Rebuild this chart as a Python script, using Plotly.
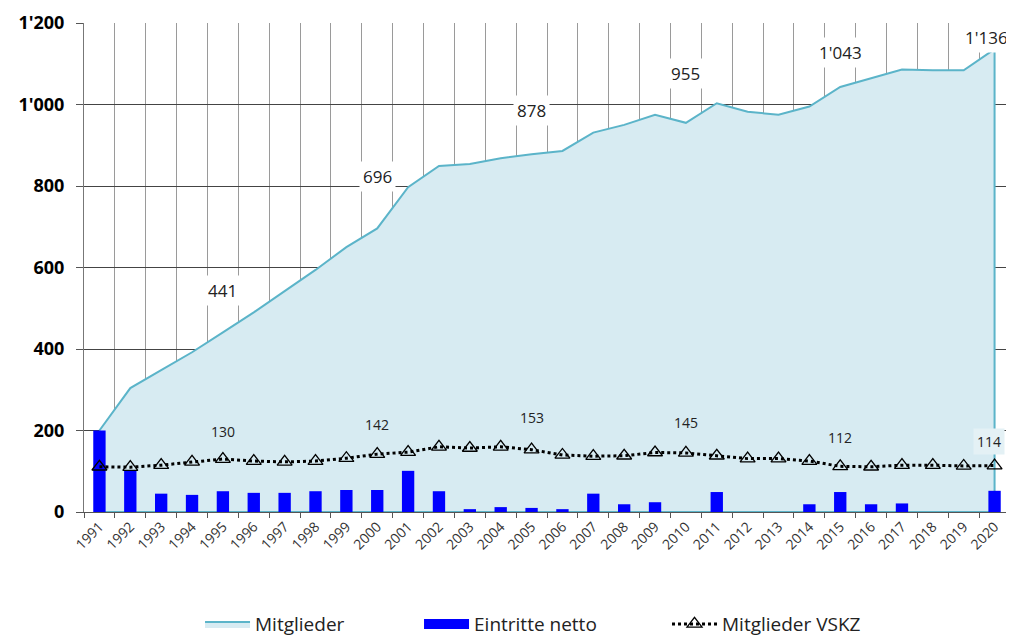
import plotly.graph_objects as go

years = [str(y) for y in range(1991, 2021)]

mitglieder = [200, 304, 348, 392, 441, 490, 542, 594, 650, 696,
              797, 849, 854, 868, 878, 886, 931, 950, 975, 955,
              1003, 982, 975, 995, 1043, 1064, 1086, 1084, 1084, 1136]

eintritte = [200, 101, 45, 42, 51, 47, 47, 51, 54, 54,
             101, 51, 7, 12, 10, 7, 45, 19, 24, 0,
             49, 0, 0, 19, 49, 19, 21, 0, 0, 52]

vskz = [111, 110, 115, 123, 130, 125, 123, 125, 132, 142,
        147, 160, 157, 160, 153, 140, 137, 138, 146, 145,
        138, 131, 131, 125, 112, 111, 115, 115, 113, 114]

y_tickvals = [0, 200, 400, 600, 800, 1000, 1200]
y_ticktext = ["0", "200", "400", "600", "800", "1'000", "1'200"]

label_years_m = ["1995", "2000", "2005", "2010", "2015", "2020"]
label_years_v = ["1995", "2000", "2005", "2010", "2015", "2020"]


def fmt(v):
    return f"{v:,}".replace(",", "'")


FILL = "#d7ebf2"
LINE = "#5bb4c9"
BLUE = "#0000ff"

fig = go.Figure()

# Area (bottom layer, main axes)
fig.add_trace(go.Scatter(
    x=years + [years[-1], years[0]],
    y=mitglieder + [0, 0],
    fill="toself", fillcolor=FILL,
    mode="lines", line=dict(color=LINE, width=2),
    name="Mitglieder", hoverinfo="skip",
    xaxis="x", yaxis="y", legend="legend",
))

# Bars (overlay axes, drawn above the area)
fig.add_trace(go.Bar(
    x=years, y=eintritte, name="Eintritte netto",
    marker=dict(color=BLUE, line=dict(width=0)),
    showlegend=False, xaxis="x2", yaxis="y2",
))
# legend proxy for the bars (wide rectangle symbol)
fig.add_trace(go.Scatter(
    x=[None], y=[None], mode="lines", name="Eintritte netto",
    line=dict(color=BLUE, width=12), xaxis="x2", yaxis="y2",
    legend="legend2",
))

fig.add_trace(go.Scatter(
    x=years, y=vskz, name="Mitglieder VSKZ",
    mode="lines+markers",
    line=dict(color="black", width=3, dash="dot"),
    marker=dict(symbol="triangle-up-open", size=13, color="black",
                line=dict(color="black", width=1.3)),
    xaxis="x2", yaxis="y2", legend="legend3",
))

m_shift = {"1995": (0, 42), "2000": (0, 52), "2005": (0, 44),
           "2010": (0, 49), "2015": (0, 34), "2020": (-8, 12)}
annotations = []
for yr in label_years_m:
    i = years.index(yr)
    xs, ys = m_shift[yr]
    annotations.append(dict(
        x=i, y=mitglieder[i], xref="x2", yref="y2",
        text=fmt(mitglieder[i]), showarrow=False,
        xshift=xs, yshift=ys, bgcolor="white", borderpad=3,
        font=dict(size=17, color="#222"),
    ))

v_shift = {"1995": (0, 28), "2000": (0, 30), "2005": (0, 32),
           "2010": (0, 30), "2015": (0, 29), "2020": (-6, 24)}
for yr in label_years_v:
    i = years.index(yr)
    xs, ys = v_shift[yr]
    annotations.append(dict(
        x=i, y=vskz[i], xref="x2", yref="y2",
        text=fmt(vskz[i]), showarrow=False,
        xshift=xs, yshift=ys, borderpad=3,
        bgcolor="#e4f1f5" if yr == "2020" else "rgba(0,0,0,0)",
        font=dict(size=14, color="#222"),
    ))

leg_common = dict(orientation="h", xanchor="left", y=-0.268, yanchor="bottom",
                  font=dict(size=19, color="#222"), itemwidth=45,
                  bgcolor="rgba(0,0,0,0)")

# the page adds an 8px body margin, so the figure is sized to fit the window
fig.update_layout(
    width=1006, height=635,
    margin=dict(l=76, r=4, t=15, b=131, autoexpand=False),
    paper_bgcolor="white", plot_bgcolor="white",
    font=dict(family="Open Sans", color="#222"),
    bargap=0.6,
    showlegend=True,
    legend=dict(x=0.1253, **leg_common),
    legend2=dict(x=0.3618, **leg_common),
    legend3=dict(x=0.6296, **leg_common),
    annotations=annotations,
    xaxis=dict(
        type="category", tickson="boundaries", range=[-0.5, 29.5],
        categoryorder="array", categoryarray=years,
        showgrid=True, gridcolor="#9a9a9a", gridwidth=1,
        showline=True, linecolor="#555", linewidth=1,
        ticks="outside", ticklen=5, tickcolor="#555",
        tickangle=-45, tickfont=dict(size=14, color="#333"),
    ),
    yaxis=dict(
        range=[0, 1200], tickvals=y_tickvals, ticktext=y_ticktext,
        showgrid=True, gridcolor="#444", gridwidth=1,
        showline=True, linecolor="#777", linewidth=1,
        ticks="outside", ticklen=7, tickcolor="#555",
        ticklabelstandoff=8,
        tickfont=dict(size=18, color="black", family="Open Sans", weight="bold"),
        zeroline=False,
    ),
    xaxis2=dict(
        type="category", overlaying="x", range=[-0.5, 29.5],
        categoryorder="array", categoryarray=years,
        visible=False, showgrid=False,
    ),
    yaxis2=dict(
        overlaying="y", range=[0, 1200], visible=False, showgrid=False,
        zeroline=False,
    ),
)

fig.write_html("out.html")
